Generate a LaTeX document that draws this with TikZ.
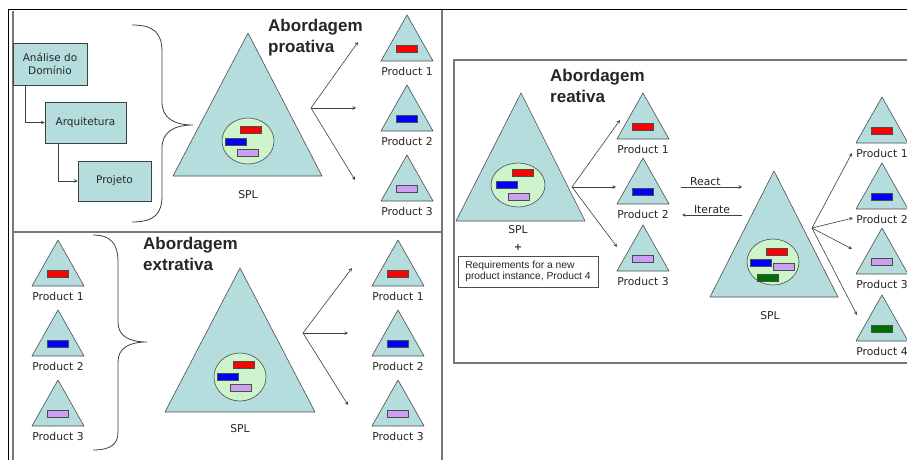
\documentclass[tikz,border=0pt]{standalone}
\usepackage{fontspec}
\setmainfont{DejaVu Sans}
\newfontfamily\headfont{Liberation Sans}
\usetikzlibrary{arrows}

\definecolor{spl}{RGB}{182,221,222}
\definecolor{pool}{RGB}{206,244,204}
\definecolor{lav}{RGB}{204,160,240}
\definecolor{dgreen}{RGB}{0,112,0}
\definecolor{framegray}{RGB}{120,120,120}

% small product triangle: name, apex x, apex y, bar colour, label
\newcommand{\prodtri}[5]{%
  \draw[tri] (#2,#3) -- ++(-26,46) -- ++(52,0) -- cycle;
  \node[bar,fill=#4] (#1b) at (#2,#3+34) {};
  \node[lbl] (#1) at (#2,#3+56) {#5};}

\begin{document}
\begin{tikzpicture}[x=1pt,y=-1pt]
\tikzstyle{tri}=[draw=black!70,fill=spl,line width=0.6pt,line join=round]
\tikzstyle{bar}=[rectangle,draw=black!70,line width=0.5pt,inner sep=0pt,minimum width=21pt,minimum height=7pt]
\tikzstyle{lbl}=[inner sep=0pt,font=\fontsize{10.8}{12}\selectfont,text=black!85]
\tikzstyle{proc}=[rectangle,draw=black!75,fill=spl,line width=0.8pt,align=center,font=\fontsize{10.5}{13}\selectfont,text=black!85]
\tikzstyle{title}=[inner sep=0pt,anchor=north west,align=left,font=\headfont\bfseries\fontsize{17}{21}\selectfont,text=black!85]
\tikzstyle{arr}=[->,>=stealth,draw=black!75,line width=0.6pt]
\tikzstyle{frame}=[draw=framegray,line width=1.2pt]

\fill[white] (0,0) rectangle (907,460);
\useasboundingbox (0,0) rectangle (907,460);

% frames
\draw[black,line width=1pt] (8,460) -- (8,10) -- (907,10);
\draw[frame] (13,11) -- (13,460);
\draw[frame] (442,10) -- (442,460);
\draw[frame] (13,232) -- (442,232);
\draw[frame] (454,60) rectangle (915,363);

% ---- abordagem proativa
\node[proc,minimum width=74pt,minimum height=42pt] (ana) at (50,64) {Análise do\\Domínio};
\node[proc,minimum width=81pt,minimum height=41pt] (arq) at (85.5,122.5) {Arquitetura};
\node[proc,minimum width=73pt,minimum height=40pt] (proj) at (114.5,181) {Projeto};
\draw[arr] ([xshift=-25pt]ana.south) |- (arq.west);
\draw[arr] ([xshift=-27.5pt]arq.south) |- (proj.west);

\draw[black!75,line width=0.8pt] (132,25) .. controls (154,25) and (162,33) .. (162,52) -- (162,102)
  .. controls (162,118) and (174,125) .. (193,125) .. controls (174,125) and (162,132) .. (162,148)
  -- (162,196) .. controls (162,214) and (154,222) .. (132,222);

\node[title] (pro) at (268,19) {Abordagem\\proativa};

\draw[tri] (248,33) -- (173,176) -- (322,176) -- cycle;
\filldraw[fill=pool,draw=black!70,line width=0.6pt] (248,141) ellipse (26pt and 23pt);
\node[bar,fill=red] (pr1) at (251,129.5) {};
\node[bar,fill=blue] (pr2) at (235.5,141.5) {};
\node[bar,fill=lav] (pr3) at (248,152.5) {};
\node[lbl] (splA) at (248,195) {SPL};

\coordinate (forkA) at (311,108);
\coordinate (a1) at (358,42);
\coordinate (a2) at (356,108);
\coordinate (a3) at (355,180);
\draw[arr] (forkA) -- (a1);
\draw[arr] (forkA) -- (a2);
\draw[arr] (forkA) -- (a3);

\prodtri{pa1}{407}{15}{red}{Product 1}
\prodtri{pa2}{407}{85}{blue}{Product 2}
\prodtri{pa3}{407}{155}{lav}{Product 3}

% ---- abordagem extrativa
\prodtri{pe1}{58}{240}{red}{Product 1}
\prodtri{pe2}{58}{310}{blue}{Product 2}
\prodtri{pe3}{58}{380}{lav}{Product 3}

\draw[black!75,line width=0.8pt] (93,235) .. controls (111,235) and (118,244) .. (118,262) -- (118,322)
  .. controls (118,336) and (129,342) .. (147,342) .. controls (129,342) and (118,348) .. (118,362)
  -- (118,432) .. controls (118,444) and (111,450) .. (93,450);

\node[title] (ext) at (143,237) {Abordagem\\extrativa};

\draw[tri] (240,268) -- (165,412) -- (315,412) -- cycle;
\filldraw[fill=pool,draw=black!70,line width=0.6pt] (240,377) ellipse (26pt and 24pt);
\node[bar,fill=red] (ex1) at (244,364.5) {};
\node[bar,fill=blue] (ex2) at (227.5,376.5) {};
\node[bar,fill=lav] (ex3) at (240.5,387.5) {};
\node[lbl] (splB) at (240,429) {SPL};

\coordinate (forkB) at (303,333);
\coordinate (b1) at (352,268);
\coordinate (b2) at (348,333);
\coordinate (b3) at (348,405);
\draw[arr] (forkB) -- (b1);
\draw[arr] (forkB) -- (b2);
\draw[arr] (forkB) -- (b3);

\prodtri{px1}{398}{240}{red}{Product 1}
\prodtri{px2}{398}{310}{blue}{Product 2}
\prodtri{px3}{398}{380}{lav}{Product 3}

% ---- abordagem reativa
\node[title] (rea) at (550,69) {Abordagem\\reativa};

\draw[tri] (521,93) -- (456,221) -- (585,221) -- cycle;
\filldraw[fill=pool,draw=black!70,line width=0.6pt] (518,185) ellipse (27pt and 22pt);
\node[bar,fill=red] (rc1) at (523,173) {};
\node[bar,fill=blue] (rc2) at (507,185) {};
\node[bar,fill=lav] (rc3) at (518.5,196.5) {};
\node[lbl] (splC) at (518,230) {SPL};
\node[inner sep=0pt,font=\bfseries\fontsize{10}{10}\selectfont,text=black!80] (plus) at (518,247) {+};
\node[draw=black!70,line width=0.8pt,align=left,inner sep=3pt,minimum width=140pt,minimum height=31pt,
  font=\headfont\fontsize{10.3}{11.5}\selectfont,text=black!85] (req) at (528,271.5)
  {Requirements for a new\\product instance, Product 4};

\coordinate (forkC) at (572,187);
\coordinate (c1) at (620,120);
\coordinate (c2) at (616,187);
\coordinate (c3) at (617,247);
\draw[arr] (forkC) -- (c1);
\draw[arr] (forkC) -- (c2);
\draw[arr] (forkC) -- (c3);

\prodtri{pr1}{643}{93}{red}{Product 1}
\prodtri{pr2}{643}{158}{blue}{Product 2}
\prodtri{pr3}{643}{225}{lav}{Product 3}

\coordinate (rs) at (681,187);
\coordinate (re) at (742,187);
\coordinate (is) at (742,215);
\coordinate (ie) at (682,215);
\draw[arr] (rs) -- node[lbl,above=1pt,pos=0.4] (react) {React} (re);
\draw[arr] (is) -- node[lbl,above=1pt,pos=0.5] (iter) {Iterate} (ie);

\draw[tri] (774,171) -- (710,297) -- (838,297) -- cycle;
\filldraw[fill=pool,draw=black!70,line width=0.6pt] (773,262) ellipse (26pt and 23pt);
\node[bar,fill=red] (rd1) at (776.5,251.5) {};
\node[bar,fill=blue] (rd2) at (760.5,263) {};
\node[bar,fill=lav] (rd3) at (784,267) {};
\node[bar,fill=dgreen] (rd4) at (768,278) {};
\node[lbl] (splD) at (770,316) {SPL};

\coordinate (forkD) at (812,228);
\coordinate (d1) at (852,153);
\coordinate (d2) at (853,218);
\coordinate (d3) at (852,249);
\coordinate (d4) at (857,315);
\draw[arr] (forkD) -- (d1);
\draw[arr] (forkD) -- (d2);
\draw[arr] (forkD) -- (d3);
\draw[arr] (forkD) -- (d4);

\prodtri{ps1}{882}{97}{red}{Product 1}
\prodtri{ps2}{882}{163}{blue}{Product 2}
\prodtri{ps3}{882}{228}{lav}{Product 3}
\prodtri{ps4}{882}{295}{dgreen}{Product 4}
\end{tikzpicture}
\end{document}
